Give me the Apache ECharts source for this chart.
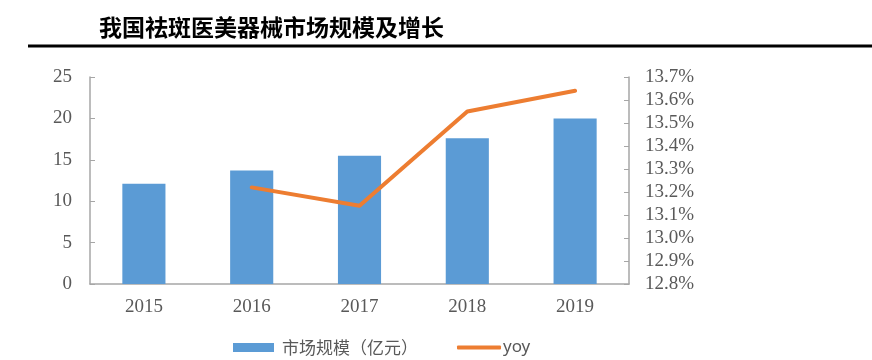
<!DOCTYPE html>
<html>
<head>
<meta charset="utf-8">
<script src="https://cdn.jsdelivr.net/npm/echarts@6/dist/echarts.min.js"></script>
<style>html,body{margin:0;padding:0;background:#fff;}#c{width:872px;height:360px;}</style>
</head>
<body>
<div id="c"></div>
<script>
var titleText = '我国祛斑医美器械市场规模及增长';
var categories = ['2015', '2016', '2017', '2018', '2019'];
var marketSize = [12.1, 13.7, 15.5, 17.6, 20.0];
var yoy = [null, 13.22, 13.14, 13.55, 13.64];
var seriesNames = ['市场规模（亿元）', 'yoy'];

var chart = echarts.init(document.getElementById('c'), null, {renderer: 'canvas'});
var axisColor = '#A6A6A6';
var labelColor = '#595959';
var serif = '"Liberation Serif", "Times New Roman", serif';
var legendText = {fontFamily: '"Noto Sans CJK SC"', fontSize: 17, color: labelColor, padding: [0, 0, 0, 3]};
chart.setOption({
  animation: false,
  backgroundColor: '#fff',
  title: {
    text: titleText,
    left: 94,
    top: 11,
    textStyle: {fontFamily: '"Noto Sans CJK SC"', fontWeight: 'bold', fontSize: 23, color: '#000'}
  },
  graphic: [{
    type: 'rect',
    shape: {x: 28, y: 44.5, width: 844, height: 3},
    style: {fill: '#000'}
  }],
  legend: [{
    left: 228,
    top: 334,
    itemWidth: 41,
    itemHeight: 9,
    data: [{name: seriesNames[0], icon: 'rect'}],
    textStyle: legendText
  }, {
    left: 452,
    top: 334,
    itemWidth: 44,
    itemHeight: 4,
    data: [{name: seriesNames[1], icon: 'roundRect'}],
    textStyle: {fontFamily: '"Noto Sans", sans-serif', fontSize: 17, color: labelColor, padding: [0, 0, 0, -3]}
  }],
  grid: {left: 90, right: 243, top: 77, bottom: 76},
  xAxis: {
    type: 'category',
    data: categories,
    boundaryGap: true,
    axisLine: {lineStyle: {color: axisColor, width: 1.5}},
    axisTick: {inside: true, length: 5, lineStyle: {color: axisColor}},
    axisLabel: {fontFamily: serif, fontSize: 19, color: labelColor, margin: 14}
  },
  yAxis: [{
    type: 'value',
    min: 0, max: 25, interval: 5,
    splitLine: {show: false},
    axisLine: {show: true, lineStyle: {color: axisColor, width: 1.5}},
    axisTick: {show: true, inside: true, length: 5, lineStyle: {color: axisColor}},
    axisLabel: {fontFamily: serif, fontSize: 19, color: labelColor, margin: 18}
  }, {
    type: 'value',
    min: 12.8, max: 13.7, interval: 0.1,
    splitLine: {show: false},
    axisLine: {show: true, lineStyle: {color: axisColor, width: 1.5}},
    axisTick: {show: true, inside: true, length: 5, lineStyle: {color: axisColor}},
    axisLabel: {fontFamily: serif, fontSize: 19, color: labelColor, margin: 16,
      formatter: function (v) { return v.toFixed(1) + '%'; }}
  }],
  series: [{
    name: seriesNames[0],
    type: 'bar',
    data: marketSize,
    barWidth: '40%',
    itemStyle: {color: '#5B9BD5'}
  }, {
    name: seriesNames[1],
    type: 'line',
    yAxisIndex: 1,
    data: yoy,
    symbol: 'none',
    connectNulls: false,
    lineStyle: {color: '#ED7D31', width: 4, cap: 'round', join: 'round'},
    itemStyle: {color: '#ED7D31'}
  }]
});
</script>
</body>
</html>
